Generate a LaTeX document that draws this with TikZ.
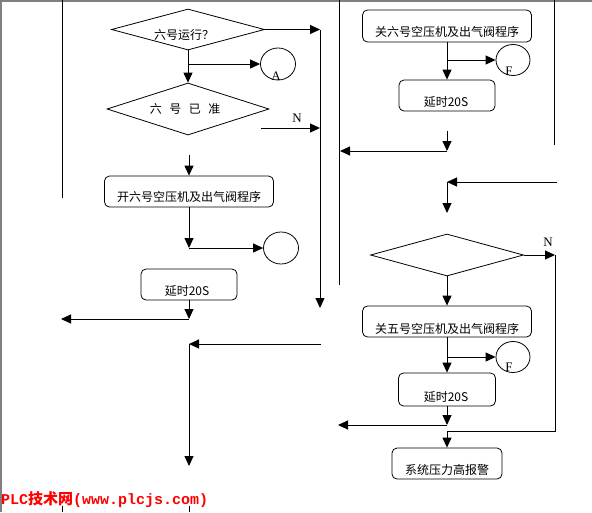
\documentclass[tikz,border=0pt]{standalone}
\usepackage{fontspec}
\newfontfamily\cjk{Noto Sans CJK SC}
\newfontfamily\serifN{Liberation Serif}
\newfontfamily\monoB{Liberation Mono}
\usetikzlibrary{arrows.meta,shapes.geometric}
\begin{document}
\begin{tikzpicture}[x=1pt,y=-1pt,
  box/.style={draw, rounded corners=5pt, line width=0.8pt, inner sep=0pt},
  dia/.style={draw, diamond, inner sep=0pt, line width=0.8pt},
  circ/.style={draw, ellipse, inner sep=0pt, minimum width=35pt, minimum height=32pt, line width=0.8pt},
  arr/.style={line width=1pt, -{Triangle[length=10pt,width=9pt]}},
  ln/.style={line width=1pt},
  txt/.style={font=\cjk\fontsize{12}{12}\selectfont, inner sep=0pt},
  lab/.style={font=\serifN\fontsize{13}{13}\selectfont, inner sep=0pt}]
\useasboundingbox (0,0) rectangle (592,512);
\fill[white] (0,0) rectangle (592,512);
% frame
\fill[black!50] (0,0) rectangle (592,2);
\fill[black!50] (0,0) rectangle (2,512);

% plain vertical lines
\coordinate (V1a) at (62,0); \coordinate (V1b) at (62,198);
\coordinate (V2a) at (339,0); \coordinate (V2b) at (339,285);
\coordinate (V3a) at (554,0); \coordinate (V3b) at (554,145);
\draw[ln] (V1a) -- (V1b);
\draw[ln] (V2a) -- (V2b);
\draw[ln] (V3a) -- (V3b);

% ---------- left column ----------
\node[dia, minimum width=153pt, minimum height=41pt] (D1) at (188,29.5) {};
\node[txt] (T1) at (184,35) {六号运行？};
\node[dia, minimum width=162pt, minimum height=52pt] (D2) at (188,109) {};
\node[txt] (T2) at (185,109) {六\hspace{7.5pt}号\hspace{7.5pt}已\hspace{7.5pt}准};
\node[circ] (CA) at (278,64) {};
\node[lab] (LA) at (276,76) {A};
\node[box, minimum width=169pt, minimum height=31pt] (L1) at (189,191.5) {};
\node[txt] (L1t) at (189,197) {开六号空压机及出气阀程序};
\node[circ] (CB) at (281,248) {};
\node[box, minimum width=96pt, minimum height=31pt] (L2) at (189,284.5) {};
\node[txt] (L2t) at (187,291.5) {延时20S};
\node[lab] (NL1) at (297,118) {N};

\coordinate (P1) at (320,29.5);
\coordinate (P2) at (320,308);
\draw[arr] (D1.east) -- (P1);
\draw[arr] (P1) -- (P2);
\draw[arr] (D1.south) -- (D2.north);
\coordinate (B1) at (188,64);
\draw[arr] (B1) -- (CA.west);
\coordinate (N1s) at (261,128); \coordinate (N1e) at (320,128);
\draw[arr] (N1s) -- (N1e);
\coordinate (Q1) at (189,155);
\draw[arr] (Q1) -- (L1.north);
\coordinate (Q2) at (189,248);
\draw[arr] (L1.south) -- (Q2);
\draw[arr] (Q2) -- (CB.west);
\coordinate (Q3) at (189,319); \coordinate (Q4) at (61,319);
\draw[arr] (L2.south) -- (Q3);
\draw[arr] (Q3) -- (Q4);
\coordinate (Q5) at (321,344); \coordinate (Q6) at (189,344); \coordinate (Q7) at (189,466);
\draw[arr] (Q5) -- (Q6);
\draw[arr] (Q6) -- (Q7);

% ---------- right column ----------
\node[box, minimum width=169pt, minimum height=32pt] (R1) at (447,26) {};
\node[txt] (R1t) at (447,32) {关六号空压机及出气阀程序};
\node[circ, minimum width=34pt, minimum height=31pt] (CF1) at (513,60) {};
\node[lab] (LF1) at (509,71) {F};
\node[box, minimum width=96pt, minimum height=31pt] (R2) at (447,95.5) {};
\node[txt] (R2t) at (446,102) {延时20S};
\node[dia, minimum width=153pt, minimum height=42pt] (RD) at (447,255) {};
\node[lab] (NL2) at (548,242) {N};
\node[box, minimum width=169pt, minimum height=31pt] (R3) at (447,321.5) {};
\node[txt] (R3t) at (447,329) {关五号空压机及出气阀程序};
\node[circ, minimum width=34pt, minimum height=31pt] (CF2) at (513,357) {};
\node[lab] (LF2) at (509,367) {F};
\node[box, minimum width=97pt, minimum height=33pt] (R4) at (447,389.5) {};
\node[txt] (R4t) at (446,397) {延时20S};
\node[box, minimum width=110pt, minimum height=31pt] (R5) at (447,463.5) {};
\node[txt] (R5t) at (447,470) {系统压力高报警};

\draw[arr] (R1.south) -- (R2.north);
\coordinate (S1) at (447,60);
\draw[arr] (S1) -- (CF1.west);
\coordinate (S2) at (447,131); \coordinate (S3) at (447,151); \coordinate (S4) at (340,151);
\draw[arr] (S2) -- (S3);
\draw[arr] (S3) -- (S4);
\coordinate (S5) at (557,182); \coordinate (S6) at (447,182); \coordinate (S7) at (447,213);
\draw[arr] (S5) -- (S6);
\draw[arr] (S6) -- (S7);
\coordinate (S8) at (555,255);
\draw[arr] (RD.east) -- (S8);
\coordinate (S9) at (555,431); \coordinate (S10) at (447,431);
\draw[ln] (S8) -- (S9) -- (S10);
\draw[arr] (S10) -- (R5.north);
\draw[arr] (RD.south) -- (R3.north);
\draw[arr] (R3.south) -- (R4.north);
\coordinate (S11) at (447,357);
\draw[arr] (S11) -- (CF2.west);
\coordinate (S12) at (447,425); \coordinate (S13) at (338,425);
\draw[arr] (R4.south) -- (S12);
\draw[arr] (S12) -- (S13);

% bottom ticks
\coordinate (K1a) at (62,506); \coordinate (K1b) at (62,512);
\coordinate (K2a) at (189,506); \coordinate (K2b) at (189,512);
\draw[line width=0.8pt] (K1a) -- (K1b);
\draw[line width=0.8pt] (K2a) -- (K2b);

% watermark
\node[anchor=west, inner sep=0pt, text=red, font=\fontsize{15}{15}\selectfont] (W) at (1,500)
  {\monoB\bfseries PLC{\cjk\bfseries 技术网}(www.plcjs.com)};
\end{tikzpicture}
\end{document}
